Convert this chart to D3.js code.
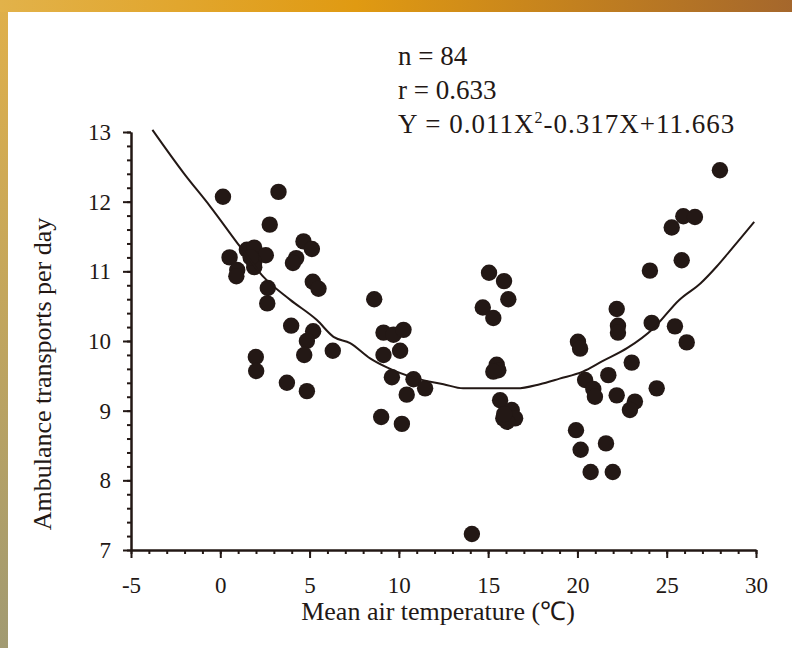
<!DOCTYPE html>
<html>
<head>
<meta charset="utf-8">
<script src="https://cdn.jsdelivr.net/npm/d3@7"></script>
<style>
  body { margin: 0; background: #fff; }
  text { font-family: "Liberation Serif", "Times New Roman", serif; fill: #231815; }
  .axis path, .axis line { stroke: #231815; stroke-width: 2; }
</style>
</head>
<body>
<svg id="chart"></svg>
<script>
// mean air temperature (x) and ambulance transports per day (y)
const tempX = [0.15, 3.26, 2.77, 0.52, 0.95, 0.90, 1.49, 1.90, 2.55, 1.90, 1.90, 1.70,
  4.66, 5.13, 4.25, 4.07, 5.18, 5.50, 2.66, 2.63, 3.97, 5.20, 4.85, 4.70, 6.30,
  1.99, 2.01, 3.73, 4.85,
  8.62, 9.14, 9.70, 10.26, 9.14, 10.07, 9.61, 10.82, 11.47, 10.44, 9.01, 10.17,
  15.05, 15.89, 16.13, 14.70, 15.29, 15.48, 15.57, 15.29, 15.67, 16.32, 15.85, 16.51, 16.06, 15.90, 14.09,
  20.03, 20.15, 20.43, 20.89, 20.98, 21.73, 22.20, 23.04, 23.22, 22.94, 24.44,
  19.92, 20.18, 21.60, 20.74, 21.98,
  22.20, 22.27, 22.27, 24.06, 24.16, 25.46, 26.12, 25.84, 25.28, 25.93, 26.58, 27.98];
const transportsY = [12.07, 12.14, 11.67, 11.20, 11.02, 10.93, 11.31, 11.34, 11.23, 11.13, 11.06, 11.20,
  11.43, 11.32, 11.19, 11.12, 10.85, 10.75, 10.76, 10.54, 10.22, 10.14, 10.00, 9.80, 9.86,
  9.77, 9.57, 9.40, 9.28,
  10.60, 10.12, 10.09, 10.16, 9.80, 9.86, 9.48, 9.45, 9.32, 9.23, 8.91, 8.81,
  10.98, 10.86, 10.60, 10.48, 10.33, 9.66, 9.58, 9.56, 9.15, 9.01, 8.89, 8.89, 8.84, 8.95, 7.23,
  9.99, 9.89, 9.44, 9.31, 9.20, 9.51, 9.22, 9.69, 9.13, 9.01, 9.32,
  8.72, 8.44, 8.53, 8.12, 8.12,
  10.46, 10.22, 10.12, 11.01, 10.26, 10.21, 9.98, 11.16, 11.63, 11.79, 11.78, 12.45];

// fitted curve as drawn in the figure
const fitX = [-3.8, -2.05, -0.56, 1.12, 2.42, 3.92, 5.41, 6.34, 7.27, 8.39, 9.33, 11.0, 12.5,
  13.6, 16.6, 17.9, 19.0, 20.3, 21.4, 22.8, 24.25, 25.7, 26.9, 27.8, 28.5, 29.9];
const fitY = [13.03, 12.41, 11.93, 11.35, 10.92, 10.59, 10.30, 10.06, 9.97, 9.75, 9.62, 9.46, 9.38,
  9.32, 9.32, 9.38, 9.46, 9.56, 9.71, 9.90, 10.18, 10.59, 10.83, 11.07, 11.28, 11.71];

const xTicks = [-5, 0, 5, 10, 15, 20, 25, 30];
const yTicks = [7, 8, 9, 10, 11, 12, 13];
const statLines = ["n = 84", "r = 0.633"];

const width = 792, height = 648;
const margin = {top: 132, right: 36, bottom: 98, left: 131};
const w = width - margin.left - margin.right;
const h = height - margin.top - margin.bottom;

const svg = d3.select("#chart").attr("width", width).attr("height", height);

// slide frame
const defs = svg.append("defs");
const gTop = defs.append("linearGradient").attr("id", "gTop");
gTop.append("stop").attr("offset", "0%").attr("stop-color", "#e2b24a");
gTop.append("stop").attr("offset", "45%").attr("stop-color", "#e09a12");
gTop.append("stop").attr("offset", "100%").attr("stop-color", "#a5672c");
const gLeft = defs.append("linearGradient").attr("id", "gLeft")
  .attr("x1", 0).attr("y1", 0).attr("x2", 0).attr("y2", 1);
gLeft.append("stop").attr("offset", "0%").attr("stop-color", "#e0b04a");
gLeft.append("stop").attr("offset", "100%").attr("stop-color", "#a19a72");

svg.append("rect").attr("width", width).attr("height", height).attr("fill", "#fff");
svg.append("rect").attr("x", 0).attr("y", 0).attr("width", 8).attr("height", height).attr("fill", "url(#gLeft)");
svg.append("rect").attr("x", 0).attr("y", 0).attr("width", width).attr("height", 12).attr("fill", "url(#gTop)");

const chart = svg.append("g").attr("transform", `translate(${margin.left},${margin.top})`);

const x = d3.scaleLinear().domain([-5, 30]).range([0, w]);
const y = d3.scaleLinear().domain([7, 13]).range([h, 0]);

// minor ticks
chart.append("g").attr("class", "axis")
  .attr("transform", `translate(0,${h})`)
  .call(d3.axisBottom(x).tickValues(d3.range(-5, 31, 1)).tickSize(4).tickSizeOuter(0).tickFormat(""));
chart.append("g").attr("class", "axis")
  .call(d3.axisLeft(y).tickValues(d3.range(7, 13.01, 0.2)).tickSize(4).tickSizeOuter(0).tickFormat(""));

// major ticks
chart.append("g").attr("class", "axis")
  .attr("transform", `translate(0,${h})`)
  .call(d3.axisBottom(x).tickValues(xTicks).tickSize(8).tickSizeOuter(0)
    .tickPadding(19).tickFormat(d => String(d)));
chart.append("g").attr("class", "axis")
  .call(d3.axisLeft(y).tickValues(yTicks).tickSize(8).tickSizeOuter(0)
    .tickPadding(12).tickFormat(d => String(d)));
chart.selectAll(".axis text").style("font-size", "23px").style("font-family", "Liberation Serif");

// points
const pts = tempX.map((d, i) => ({x: d, y: transportsY[i]}));
chart.selectAll(".dot")
  .data(pts)
  .join("circle")
  .attr("class", "dot")
  .attr("cx", d => x(d.x))
  .attr("cy", d => y(d.y))
  .attr("r", 8.2)
  .attr("fill", "#231815");

// regression curve
const line = d3.line()
  .x(d => x(d))
  .y((d, i) => y(fitY[i]))
  .curve(d3.curveMonotoneX);
chart.append("path")
  .attr("d", line(fitX))
  .attr("fill", "none")
  .attr("stroke", "#231815")
  .attr("stroke-width", 2);

// axis titles
svg.append("text")
  .attr("x", 438).attr("y", 620)
  .attr("text-anchor", "middle")
  .style("font-size", "26px")
  .text("Mean air temperature (℃)");

svg.append("text")
  .attr("transform", "translate(51,374) rotate(-90)")
  .attr("text-anchor", "middle")
  .style("font-size", "26px")
  .text("Ambulance transports per day");

// stats
svg.selectAll(".stat")
  .data(statLines)
  .join("text")
  .attr("class", "stat")
  .attr("x", 398)
  .attr("y", (d, i) => 65 + i * 34)
  .style("font-size", "27px")
  .text(d => d);

const eq = svg.append("text")
  .attr("x", 398).attr("y", 133)
  .style("font-size", "27px")
  .style("letter-spacing", "1px");
eq.append("tspan").text("Y = 0.011X");
eq.append("tspan").attr("dy", -10).style("font-size", "16px").text("2");
eq.append("tspan").attr("dy", 10).text("-0.317X+11.663");
</script>
</body>
</html>
